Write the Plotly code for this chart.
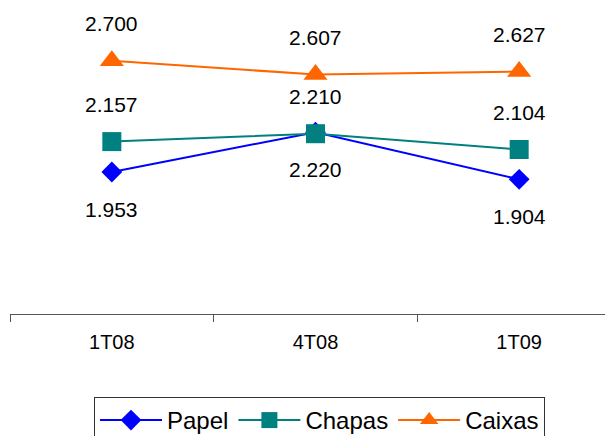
import plotly.graph_objects as go

categories = ["1T08", "4T08", "1T09"]
papel = [1.953, 2.220, 1.904]
chapas = [2.157, 2.210, 2.104]
caixas = [2.700, 2.607, 2.627]
papel_labels = ["1.953", "2.220", "1.904"]
chapas_labels = ["2.157", "2.210", "2.104"]
caixas_labels = ["2.700", "2.607", "2.627"]

FONT = "Liberation Sans, Arial, sans-serif"

fig = go.Figure()
fig.add_trace(go.Scatter(x=categories, y=papel, name="Papel", mode="lines+markers",
                         line=dict(color="#0000FF", width=2),
                         marker=dict(symbol="diamond", size=16, color="#0000FF")))
fig.add_trace(go.Scatter(x=categories, y=chapas, name="Chapas", mode="lines+markers",
                         line=dict(color="#008080", width=2),
                         marker=dict(symbol="square", size=19, color="#008080")))
fig.add_trace(go.Scatter(x=categories, y=caixas, name="Caixas", mode="lines+markers",
                         line=dict(color="#FF6600", width=2),
                         marker=dict(symbol="triangle-up", size=21, color="#FF6600")))

annotations = []
for vals, labs, shift in ((papel, papel_labels, -37), (chapas, chapas_labels, 37), (caixas, caixas_labels, 37)):
    for c, v, t in zip(categories, vals, labs):
        annotations.append(dict(x=c, y=v, text=t, showarrow=False, yshift=shift,
                                font=dict(family=FONT, size=21, color="black")))

fig.update_layout(
    width=613, height=436,
    margin=dict(l=2, r=0, t=8, b=130),
    paper_bgcolor="white", plot_bgcolor="white",
    font=dict(family=FONT, size=20, color="black"),
    annotations=annotations,
    xaxis=dict(type="category", categoryorder="array", categoryarray=categories,
               range=[-0.5, 2.5],
               tickson="boundaries", ticks="outside", ticklen=7, tickcolor="#555555",
               showline=True, linecolor="#555555", linewidth=1, showgrid=False,
               zeroline=False, ticklabelstandoff=10,
               tickfont=dict(family=FONT, size=20, color="black")),
    yaxis=dict(range=[1, 3], visible=False, showgrid=False, zeroline=False),
    legend=dict(orientation="h", x=0.1375, xanchor="left", y=-0.2785, yanchor="top",
                bordercolor="#333333", borderwidth=1, bgcolor="white",
                font=dict(family=FONT, size=24, color="black"), itemwidth=62),
    showlegend=True,
)

fig.write_html("out.html")
